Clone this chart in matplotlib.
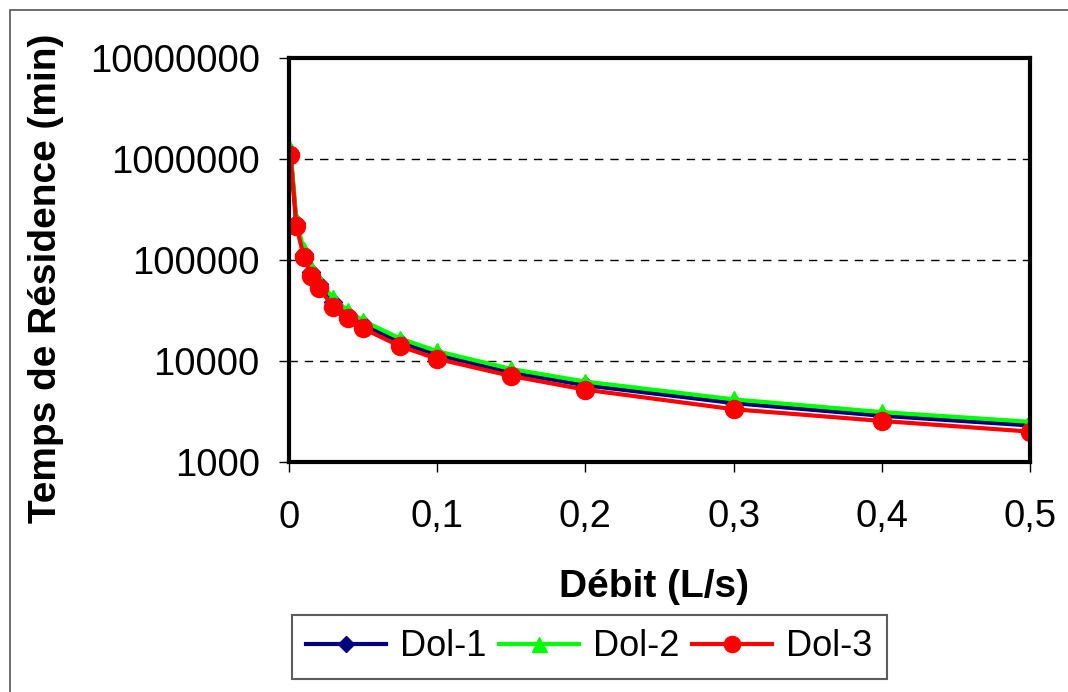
import matplotlib
matplotlib.use("Agg")
import matplotlib.pyplot as plt
from matplotlib.ticker import FixedLocator, FuncFormatter, NullLocator

debit = [0.001, 0.005, 0.01, 0.015, 0.02, 0.03, 0.04, 0.05, 0.075, 0.1, 0.15, 0.2, 0.3, 0.4, 0.5]
dol1 = [1150000, 230000, 115000, 76700, 57500, 38300, 28700, 23000, 15300, 11500, 7670, 5750, 3830, 2870, 2300]
dol2 = [1250000, 250000, 125000, 83300, 62500, 41700, 31200, 25000, 16700, 12500, 8330, 6250, 4170, 3120, 2500]
dol3 = [1100000, 215000, 108000, 70000, 53000, 34500, 26500, 21000, 14000, 10500, 7100, 5200, 3330, 2550, 2000]
series = [("Dol-1", dol1, "#000080", "D", 9), ("Dol-2", dol2, "#00ff00", "^", 12), ("Dol-3", dol3, "#ff0000", "o", 13)]
x_ticks = [0, 0.1, 0.2, 0.3, 0.4, 0.5]
y_ticks = [1000, 10000, 100000, 1000000, 10000000]

plt.rcParams["font.family"] = ["Liberation Sans", "DejaVu Sans"]

W, H = 1068, 692
fig = plt.figure(figsize=(W / 100, H / 100), dpi=100)
fig.patches.append(plt.Rectangle((10 / W, -0.01), 1.1, 1 - 10 / H + 0.01, transform=fig.transFigure,
                                 fill=False, edgecolor="#555555", linewidth=1.2))
ax = fig.add_axes([289 / W, 1 - 462 / H, (1030 - 289) / W, (462 - 58) / H])

for name, vals, color, marker, ms in series:
    ax.plot(debit, vals, color=color, marker=marker, markersize=ms, linewidth=3,
            markeredgecolor=color, label=name)

ax.set_yscale("log")
ax.set_ylim(1000, 10000000)
ax.set_xlim(0, 0.5)
ax.yaxis.set_major_locator(FixedLocator(y_ticks))
ax.yaxis.set_minor_locator(NullLocator())
ax.yaxis.set_major_formatter(FuncFormatter(lambda v, p: f"{int(round(v))}"))
ax.xaxis.set_major_locator(FixedLocator(x_ticks))
ax.xaxis.set_major_formatter(FuncFormatter(lambda v, p: f"{v:g}".replace(".", ",")))
ax.grid(axis="y", which="major", color="black", linestyle=(0, (6, 5)), linewidth=1)
for s in ax.spines.values():
    s.set_linewidth(3)
ax.tick_params(axis="both", which="major", direction="out", length=7, width=1, labelsize=27.5)
ax.tick_params(axis="y", pad=14)
ax.tick_params(axis="x", pad=20)

fig.text(46 / W, 1 - 278 / H, "Temps de Résidence (min)", rotation=90, ha="center", va="center",
         fontsize=28, fontweight="bold")
fig.text(654 / W, 1 - 587 / H, "Débit (L/s)", ha="center", va="center",
         fontsize=28, fontweight="bold")

leg = ax.legend(loc="upper left", bbox_to_anchor=(292 / W, 1 - 615 / H), bbox_transform=fig.transFigure,
                borderaxespad=0, ncol=3, fontsize=26, frameon=True, fancybox=False, edgecolor="#333333",
                handlelength=2.2, columnspacing=0.35, handletextpad=0.4, borderpad=0.4, markerscale=0.9)
leg.get_frame().set_linewidth(1.5)

fig.savefig("out.png", dpi=100)
